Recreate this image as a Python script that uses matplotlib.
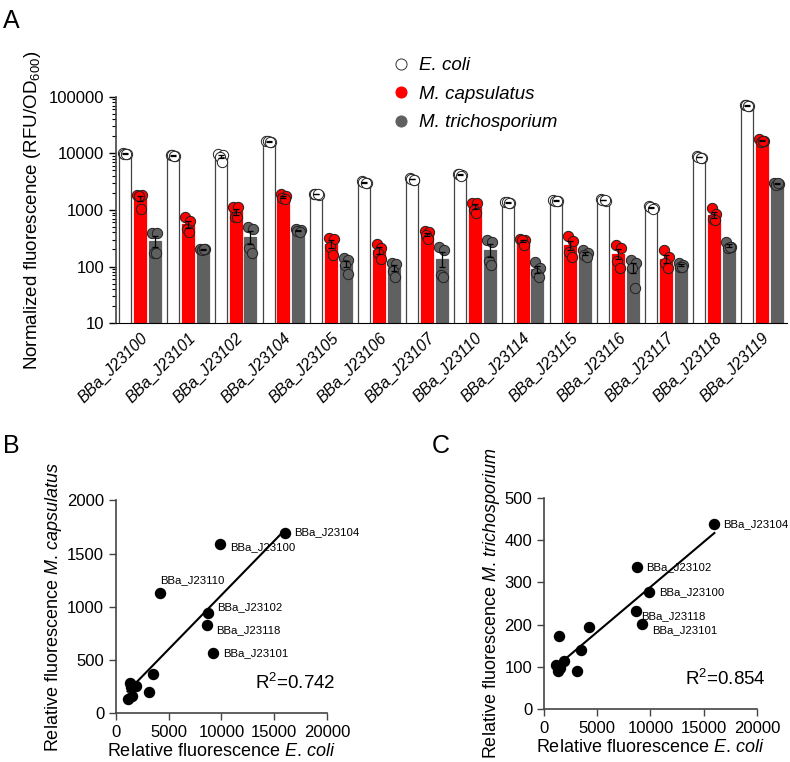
import numpy as np
import matplotlib
matplotlib.use("Agg")
import matplotlib.pyplot as plt
from matplotlib.lines import Line2D

plt.rcParams['font.family'] = ['Liberation Sans', 'DejaVu Sans']
plt.rcParams['mathtext.fontset'] = 'custom'
plt.rcParams['mathtext.rm'] = 'Liberation Sans'
plt.rcParams['mathtext.it'] = 'Liberation Sans:italic'

# ---- data ----
promoters = ['BBa_J23100', 'BBa_J23101', 'BBa_J23102', 'BBa_J23104', 'BBa_J23105',
             'BBa_J23106', 'BBa_J23107', 'BBa_J23110', 'BBa_J23114', 'BBa_J23115',
             'BBa_J23116', 'BBa_J23117', 'BBa_J23118', 'BBa_J23119']

# replicate values (4 per promoter)
ecoli_reps = [
    [10200, 9700, 9900, 9800],
    [9400, 9000, 9300, 9100],
    [9900, 9500, 8700, 7000],
    [16500, 15600, 16200, 15700],
    [1950, 1850, 1900, 1900],
    [3250, 3000, 3150, 3000],
    [3600, 3400, 3550, 3450],
    [4400, 4100, 4250, 4050],
    [1400, 1320, 1360, 1330],
    [1500, 1420, 1460, 1420],
    [1550, 1460, 1520, 1470],
    [1150, 1080, 1120, 1050],
    [8900, 8400, 8700, 8400],
    [72000, 68000, 70500, 69500],
]
mcaps_reps = [
    [1800, 1800, 1750, 1050],
    [750, 640, 460, 410],
    [1130, 1130, 750, 750],
    [1900, 1750, 1600, 1550],
    [320, 305, 220, 160],
    [250, 213, 173, 136],
    [425, 400, 360, 306],
    [1330, 1330, 1000, 885],
    [306, 294, 290, 240],
    [347, 283, 181, 147],
    [240, 213, 125, 94],
    [196, 147, 115, 94],
    [1080, 850, 693, 666],
    [18000, 16700, 16000, 16300],
]
mtri_reps = [
    [392, 392, 173, 173],
    [205, 200, 195, 205],
    [500, 461, 213, 173],
    [460, 450, 430, 410],
    [141, 130, 106, 74],
    [115, 111, 83, 65],
    [222, 196, 71, 65],
    [294, 270, 125, 106],
    [120, 94, 77, 65],
    [196, 173, 160, 147],
    [130, 115, 94, 41],
    [115, 106, 98, 100],
    [270, 222, 213, 225],
    [3000, 2900, 2800, 2950],
]

# scatter panels use the promoter means (BBa_J23119 left out)
ecoli_mean = [9900, 9200, 8700, 16000, 1900, 3100, 3500, 4200, 1350, 1450, 1500, 1100, 8600]
mcaps_mean = [1590, 560, 940, 1690, 250, 195, 370, 1130, 280, 240, 160, 130, 830]
mtri_mean = [277, 201, 337, 438, 114, 91, 140, 194, 91, 172, 98, 104, 232]
r2_caps = '0.742'
r2_tri = '0.854'
labels_b = ['BBa_J23104', 'BBa_J23100', 'BBa_J23110', 'BBa_J23102', 'BBa_J23118', 'BBa_J23101']
labels_c = ['BBa_J23104', 'BBa_J23102', 'BBa_J23100', 'BBa_J23118', 'BBa_J23101']

RED = '#ff0000'
GREY = '#606060'

fig = plt.figure(figsize=(7.9, 7.62), dpi=100)

# ---------------- panel A ----------------
axA = fig.add_axes([0.1468, 0.576, 0.849, 0.297])
x = np.arange(len(promoters))
w = 0.25
offs = [-0.31, 0.0, 0.31]
jit = np.array([-0.05, 0.05, -0.02, 0.03])
series = [(ecoli_reps, 'white', '#444444'), (mcaps_reps, RED, '#222222'), (mtri_reps, GREY, '#222222')]
for (reps, fc, ec), o in zip(series, offs):
    reps = np.array(reps, dtype=float)
    m = reps.mean(axis=1)
    se = reps.std(axis=1, ddof=1) / np.sqrt(reps.shape[1])
    axA.bar(x + o, m, width=w, color=fc, edgecolor=ec if fc == 'white' else fc,
            linewidth=0.9, zorder=2)
    for i in range(len(x)):
        axA.scatter(x[i] + o + jit, reps[i], s=55, facecolor=fc, edgecolor='#222222',
                    linewidth=0.7, zorder=3)
    axA.errorbar(x + o, m, yerr=se, fmt='none', ecolor='black', elinewidth=0.9,
                 capsize=2.5, capthick=0.9, zorder=4)

axA.set_yscale('log')
axA.set_ylim(10, 100000)
axA.set_xlim(-0.5, len(x) - 0.5 + 0.02)
axA.set_yticks([10, 100, 1000, 10000, 100000])
axA.set_yticklabels(['10', '100', '1000', '10000', '100000'], fontsize=12)
axA.set_xticks(x)
axA.set_xticklabels(promoters, rotation=45, ha='right', rotation_mode='anchor',
                    fontsize=11.5, style='italic')
axA.tick_params(axis='x', length=0, pad=5)
axA.tick_params(axis='y', which='major', length=5, width=1)
axA.tick_params(axis='y', which='minor', length=3, width=0.8)
axA.spines['top'].set_visible(False)
axA.spines['right'].set_visible(False)
axA.spines['left'].set_color('#444444')
axA.spines['left'].set_linewidth(1.2)
axA.set_ylabel('Normalized fluorescence (RFU/OD$_{600}$)', fontsize=13.5)

handles = [Line2D([], [], ls='none', marker='o', ms=8, mfc='white', mec='#333333', mew=0.7),
           Line2D([], [], ls='none', marker='o', ms=8, mfc=RED, mec=RED, mew=0.7),
           Line2D([], [], ls='none', marker='o', ms=8, mfc=GREY, mec=GREY, mew=0.7)]
leg = fig.legend(handles, ['E. coli', 'M. capsulatus', 'M. trichosporium'],
                 loc='upper left', bbox_to_anchor=(0.474, 0.947), frameon=False,
                 prop={'size': 13.5, 'style': 'italic'}, handletextpad=0.5,
                 labelspacing=0.6, handlelength=1.0)

fig.text(0.004, 0.972, 'A', fontsize=18, va='center')


# ---------------- panels B and C ----------------
def scatter_panel(rect, xs, ys, ylim, ystep, ylabel, labels, r2, lab_pos):
    ax = fig.add_axes(rect)
    xs = np.array(xs, dtype=float)
    ys = np.array(ys, dtype=float)
    ax.scatter(xs, ys, s=52, color='black', zorder=3)
    k, b = np.polyfit(xs, ys, 1)
    xx = np.array([xs.min(), xs.max()])
    ax.plot(xx, k * xx + b, color='black', lw=1.5)
    for name, (dx, dy) in zip(labels, lab_pos):
        i = promoters.index(name)
        ax.annotate(name, (xs[i], ys[i]), xytext=(dx, dy), textcoords='offset points',
                    fontsize=8.2, va='center', ha='left')
    ax.text(0.66, 0.14, 'R$^2$=' + r2, transform=ax.transAxes, fontsize=13.5, va='center')
    ax.set_xlim(0, 20000)
    ax.set_ylim(*ylim)
    ax.set_xticks(np.arange(0, 20001, 5000))
    ax.set_yticks(np.arange(ylim[0], ylim[1] + 1, ystep))
    ax.tick_params(labelsize=12, length=5, width=1, color='#444444')
    for s in ['top', 'right']:
        ax.spines[s].set_visible(False)
    for s in ['left', 'bottom']:
        ax.spines[s].set_color('#444444')
        ax.spines[s].set_linewidth(1.2)
    ax.set_xlabel(r'Relative fluorescence $\it{E.\,coli}$', fontsize=13, labelpad=2)
    ax.set_ylabel(ylabel, fontsize=13, labelpad=2)
    return ax


scatter_panel([0.1468, 0.0643, 0.267, 0.279], ecoli_mean, mcaps_mean, (0, 2000), 500,
              r'Relative fluorescence $\it{M.\,capsulatus}$', labels_b, r2_caps,
              [(7, 1), (7, -2), (0, 9), (7, 4), (7, -4), (7, 0)])
fig.text(0.004, 0.415, 'B', fontsize=18, va='center')

scatter_panel([0.6886, 0.0696, 0.2696, 0.277], ecoli_mean, mtri_mean, (0, 500), 100,
              r'Relative fluorescence $\it{M.\,trichosporium}$', labels_c, r2_tri,
              [(6, 0), (7, 0), (7, 0), (4, -4), (7, -4)])
fig.text(0.546, 0.415, 'C', fontsize=18, va='center')

fig.savefig('out.png', dpi=100)
